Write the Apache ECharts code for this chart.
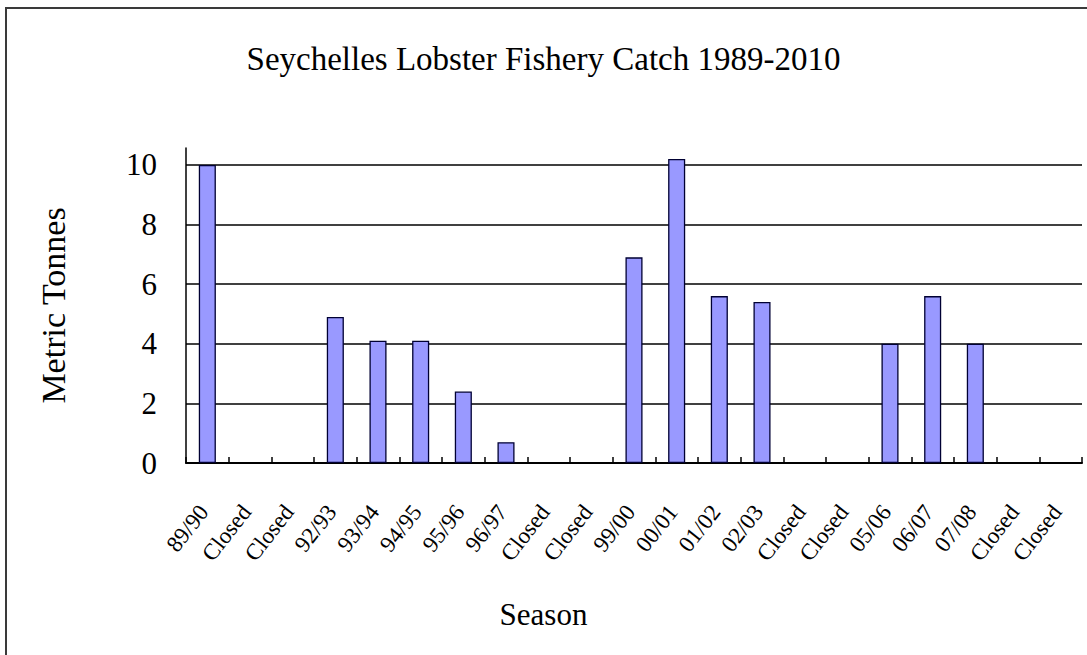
<!DOCTYPE html>
<html>
<head>
<meta charset="utf-8">
<title>Seychelles Lobster Fishery Catch 1989-2010</title>
<script src="https://cdn.jsdelivr.net/npm/echarts@6/dist/echarts.min.js"></script>
<style>
  html, body { margin: 0; padding: 0; background: #ffffff; }
  #chart { width: 1087px; height: 655px; }
</style>
</head>
<body>
<div id="chart"></div>
<script>
// Fishing seasons; "Closed" marks seasons with no fishing
const seasons = ['89/90', 'Closed', 'Closed', '92/93', '93/94', '94/95', '95/96', '96/97',
  'Closed', 'Closed', '99/00', '00/01', '01/02', '02/03', 'Closed', 'Closed',
  '05/06', '06/07', '07/08', 'Closed', 'Closed'];

// Catch per season in metric tonnes (null = fishery closed)
const catchTonnes = [10.0, null, null, 4.9, 4.1, 4.1, 2.4, 0.7,
  null, null, 6.9, 10.2, 5.6, 5.4, null, null,
  4.0, 5.6, 4.0, null, null];

const titleText = 'Seychelles Lobster Fishery Catch 1989-2010';
const yAxisTitle = 'Metric Tonnes';
const xAxisTitle = 'Season';

const FONT = '"Liberation Serif", "DejaVu Serif", serif';

const chart = echarts.init(document.getElementById('chart'), null, { renderer: 'svg' });

chart.setOption({
  backgroundColor: '#ffffff',
  animation: false,
  title: [
    {
      text: titleText,
      left: 'center',
      top: 37,
      textStyle: { fontFamily: FONT, fontSize: 33, fontWeight: 'normal', color: '#000' }
    },
    {
      text: xAxisTitle,
      left: 'center',
      top: 594,
      textStyle: { fontFamily: FONT, fontSize: 31, fontWeight: 'normal', color: '#000' }
    }
  ],
  graphic: [
    {
      // chart area frame
      type: 'rect',
      shape: { x: 6, y: 8, width: 1300, height: 1000 },
      style: { fill: 'none', stroke: '#3a3a3a', lineWidth: 2 },
      silent: true
    }
  ],
  grid: { left: 186, right: 5, top: 148, bottom: 192 },
  xAxis: {
    type: 'category',
    data: seasons,
    boundaryGap: true,
    axisLine: { show: true, lineStyle: { color: '#000', width: 2 } },
    axisTick: { show: true, inside: true, length: 6, lineStyle: { color: '#000', width: 1.5 } },
    axisLabel: {
      interval: 0,
      rotate: 52,
      margin: 40,
      padding: [0, 6, 16, 0],
      fontFamily: FONT,
      fontSize: 23,
      color: '#000'
    },
    splitLine: { show: false }
  },
  yAxis: {
    type: 'value',
    min: 0,
    max: 10.57,
    interval: 2,
    name: yAxisTitle,
    nameLocation: 'middle',
    nameGap: 116,
    nameTextStyle: { fontFamily: FONT, fontSize: 34, color: '#000' },
    axisLine: { show: true, lineStyle: { color: '#000', width: 1.5 } },
    axisTick: { show: false },
    axisLabel: {
      showMaxLabel: false,
      margin: 29,
      fontFamily: FONT,
      fontSize: 31,
      color: '#000'
    },
    splitLine: {
      show: true,
      showMaxLine: false,
      lineStyle: { color: '#000', width: 1.5 }
    }
  },
  series: [
    {
      type: 'bar',
      data: catchTonnes,
      barWidth: '40%',
      itemStyle: { color: '#9999ff', borderColor: '#000033', borderWidth: 1.3 }
    }
  ]
});
</script>
</body>
</html>
